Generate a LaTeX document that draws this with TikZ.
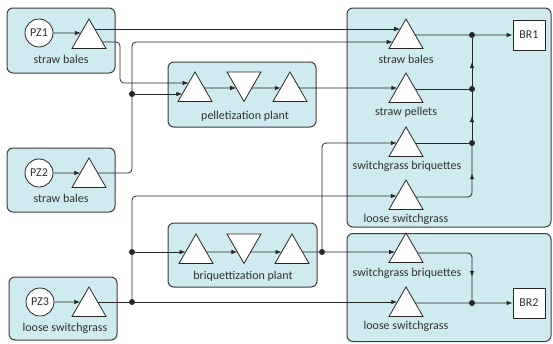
\documentclass[tikz,border=0pt]{standalone}
\usepackage{fontspec}
\setmainfont{Carlito}
\usetikzlibrary{shapes.geometric,arrows.meta,calc,decorations.markings}
\definecolor{boxfill}{HTML}{D0EBF0}
\definecolor{boxline}{HTML}{3C3C3C}
\definecolor{linecol}{HTML}{262626}
\definecolor{txtcol}{HTML}{303030}
\tikzset{
  panel/.style={draw=boxline, fill=boxfill, rounded corners=6pt, line width=1pt, inner sep=0pt},
  tri/.style={regular polygon, regular polygon sides=3, minimum size=39.3pt, inner sep=0pt, outer sep=0pt, draw=linecol, fill=white, line width=0.8pt},
  itri/.style={tri, shape border rotate=180},
  pzc/.style={circle, draw=linecol, fill=white, minimum size=28pt, inner sep=0pt, line width=0.8pt, text=txtcol},
  brbox/.style={rectangle, draw=linecol, fill=white, minimum width=32pt, minimum height=30pt, inner sep=0pt, line width=0.8pt, text=txtcol},
  lbl/.style={inner sep=0pt, text=txtcol},
  dot/.style={circle, fill=linecol, inner sep=0pt, minimum size=6pt},
  conn/.style={draw=linecol, line width=0.8pt, rounded corners=4pt},
  arr/.style={conn, -{Latex[length=6pt,width=4.5pt]}},
  midtip/.style={postaction={decorate}, decoration={markings, mark=at position #1 with {\arrow{Latex[length=6pt,width=4.5pt]}}}},
  midtip/.default=0.5
}
\begin{document}
\begin{tikzpicture}[x=1pt, y=-1pt, font=\fontsize{12}{14}\selectfont]
\useasboundingbox (0,0) rectangle (553,343);
% panels
\node[panel, minimum width=108pt, minimum height=65pt] (pz1box) at (61,40.5) {};
\node[panel, minimum width=108pt, minimum height=64pt] (pz2box) at (61,180) {};
\node[panel, minimum width=108pt, minimum height=63pt] (pz3box) at (63,308.5) {};
\node[panel, minimum width=148pt, minimum height=65pt] (pelbox) at (242,94.5) {};
\node[panel, minimum width=149pt, minimum height=64pt] (bribox) at (242.5,255) {};
\node[panel, minimum width=204pt, minimum height=219pt] (br1box) at (449,117.5) {};
\node[panel, minimum width=204pt, minimum height=108pt] (br2box) at (449,287.5) {};
% sources
\node[pzc] (pz1) at (39,33) {PZ1};
\node[pzc] (pz2) at (39,173) {PZ2};
\node[pzc] (pz3) at (40,302) {PZ3};
% triangles
\node[tri] (p1t) at (89,38.65) {};
\node[tri] (p2t) at (89,177.65) {};
\node[tri] (p3t) at (89,306.65) {};
\node[tri] (pt1) at (195,91.65) {};
\node[itri] (pt2) at (244,81.8) {};
\node[tri] (pt3) at (290,91.65) {};
\node[tri] (bt1) at (196,253.65) {};
\node[itri] (bt2) at (244,243.8) {};
\node[tri] (bt3) at (292,253.65) {};
\node[tri] (sb1) at (406,38.65) {};
\node[tri] (sp1) at (406,92.65) {};
\node[tri] (sw1) at (406,146.65) {};
\node[tri] (ls1) at (406,199.65) {};
\node[tri] (sw2) at (406,252.65) {};
\node[tri] (ls2) at (406,306.65) {};
% sinks
\node[brbox] (br1) at (529,35) {BR1};
\node[brbox] (br2) at (529,303) {BR2};
% labels
\node[lbl] (l1) at (61,59) {straw bales};
\node[lbl] (l2) at (61,198) {straw bales};
\node[lbl] (l3) at (65,328) {loose switchgrass};
\node[lbl] (l4) at (245,116) {pelletization plant};
\node[lbl] (l5) at (243,276) {briquettization plant};
\node[lbl] (l6) at (406,59) {straw bales};
\node[lbl] (l7) at (406,112) {straw pellets};
\node[lbl] (l8) at (407,166) {switchgrass briquettes};
\node[lbl] (l9) at (406,219) {loose switchgrass};
\node[lbl] (l10) at (407,273) {switchgrass briquettes};
\node[lbl] (l11) at (406,326) {loose switchgrass};
% ports
\coordinate (p1in) at ($(p1t.corner 1)!0.475!(p1t.corner 2)$);
\coordinate (p1o1) at ($(p1t.corner 1)!0.339!(p1t.corner 3)$);
\coordinate (p1o2) at ($(p1t.corner 1)!0.780!(p1t.corner 3)$);
\coordinate (p2in) at ($(p2t.corner 1)!0.509!(p2t.corner 2)$);
\coordinate (p2o) at ($(p2t.corner 1)!0.509!(p2t.corner 3)$);
\coordinate (p3in) at ($(p3t.corner 1)!0.509!(p3t.corner 2)$);
\coordinate (p3o) at ($(p3t.corner 1)!0.509!(p3t.corner 3)$);
\coordinate (pt1a) at ($(pt1.corner 1)!0.373!(pt1.corner 2)$);
\coordinate (pt1b) at ($(pt1.corner 1)!0.747!(pt1.corner 2)$);
\coordinate (pt1o) at ($(pt1.corner 1)!0.543!(pt1.corner 3)$);
\coordinate (pt2i) at ($(pt2.corner 3)!0.543!(pt2.corner 1)$);
\coordinate (pt2o) at ($(pt2.corner 2)!0.543!(pt2.corner 1)$);
\coordinate (pt3i) at ($(pt3.corner 1)!0.543!(pt3.corner 2)$);
\coordinate (pt3o) at ($(pt3.corner 1)!0.543!(pt3.corner 3)$);
\coordinate (bt1i) at ($(bt1.corner 1)!0.611!(bt1.corner 2)$);
\coordinate (bt1o) at ($(bt1.corner 1)!0.611!(bt1.corner 3)$);
\coordinate (bt2i) at ($(bt2.corner 3)!0.611!(bt2.corner 1)$);
\coordinate (bt2o) at ($(bt2.corner 2)!0.611!(bt2.corner 1)$);
\coordinate (bt3i) at ($(bt3.corner 1)!0.611!(bt3.corner 2)$);
\coordinate (bt3o) at ($(bt3.corner 1)!0.611!(bt3.corner 3)$);
\coordinate (sb1a) at ($(sb1.corner 1)!0.339!(sb1.corner 2)$);
\coordinate (sb1b) at ($(sb1.corner 1)!0.780!(sb1.corner 2)$);
\coordinate (sb1o) at ($(sb1.corner 1)!0.543!(sb1.corner 3)$);
\coordinate (sp1i) at ($(sp1.corner 1)!0.509!(sp1.corner 2)$);
\coordinate (sp1o) at ($(sp1.corner 1)!0.543!(sp1.corner 3)$);
\coordinate (sw1i) at ($(sw1.corner 1)!0.543!(sw1.corner 2)$);
\coordinate (sw1o) at ($(sw1.corner 1)!0.543!(sw1.corner 3)$);
\coordinate (ls1i) at ($(ls1.corner 1)!0.543!(ls1.corner 2)$);
\coordinate (ls1o) at ($(ls1.corner 1)!0.577!(ls1.corner 3)$);
\coordinate (sw2i) at ($(sw2.corner 1)!0.645!(sw2.corner 2)$);
\coordinate (sw2o) at ($(sw2.corner 1)!0.679!(sw2.corner 3)$);
\coordinate (ls2i) at ($(ls2.corner 1)!0.509!(ls2.corner 2)$);
\coordinate (ls2o) at ($(ls2.corner 1)!0.543!(ls2.corner 3)$);
% junction columns
\coordinate (xa) at (120,0);
\coordinate (xb) at (132,0);
\coordinate (xd) at (322,0);
\coordinate (xe) at (472,0);
% connectors
\draw[arr] (pz1) -- (p1in);
\draw[arr] (pz2) -- (p2in);
\draw[arr] (pz3) -- (p3in);
\draw[arr] (p1o1) -- (sb1a);
\draw[arr] (p1o2) -- (p1o2 -| xa) -- (xa |- pt1a) -- (pt1a);
\draw[arr] (p2o) -- (p2o -| xb) -- (xb |- sb1b) -- (sb1b);
\draw[arr] (pt1o) -- (pt2i);
\draw[arr] (pt2o) -- (pt3i);
\draw[arr] (pt3o) -- (sp1i);
\draw[arr] (p3o) -- (ls2i);
\draw[arr] (bt1o) -- (bt2i);
\draw[arr] (bt2o) -- (bt3i);
\draw[arr] (bt3o) -- (sw2i);
% dots
\node[dot] (d1) at (xb |- pt1b) {};
\node[dot] (d3) at (xb |- bt1i) {};
\node[dot] (d5) at (xb |- p3o) {};
\node[dot] (d4) at (xd |- bt3o) {};
\node[dot] (e1) at (xe |- sb1o) {};
\node[dot] (e2) at (xe |- sp1o) {};
\node[dot] (e3) at (xe |- sw1o) {};
\node[dot] (e5) at (xe |- ls2o) {};
\draw[arr] (d1) -- (pt1b);
\draw[arr] (d5) -- (d5 |- ls1i) -- (ls1i);
\draw[arr] (d3) -- (bt1i);
\draw[arr] (d4) -- (d4 |- sw1i) -- (sw1i);
\draw[arr] (sb1o) -- (br1);
\draw[conn] (sp1o) -- (e2);
\draw[conn] (sw1o) -- (e3);
\draw[conn, midtip=-27pt] (ls1o) -- (ls1o -| xe) -- (e3);
\draw[conn, midtip] (e3) -- (e2);
\draw[conn, midtip] (e2) -- (e1);
\draw[conn, midtip=-23pt] (sw2o) -- (sw2o -| xe) -- (e5);
\draw[arr] (ls2o) -- (br2);
\end{tikzpicture}
\end{document}
